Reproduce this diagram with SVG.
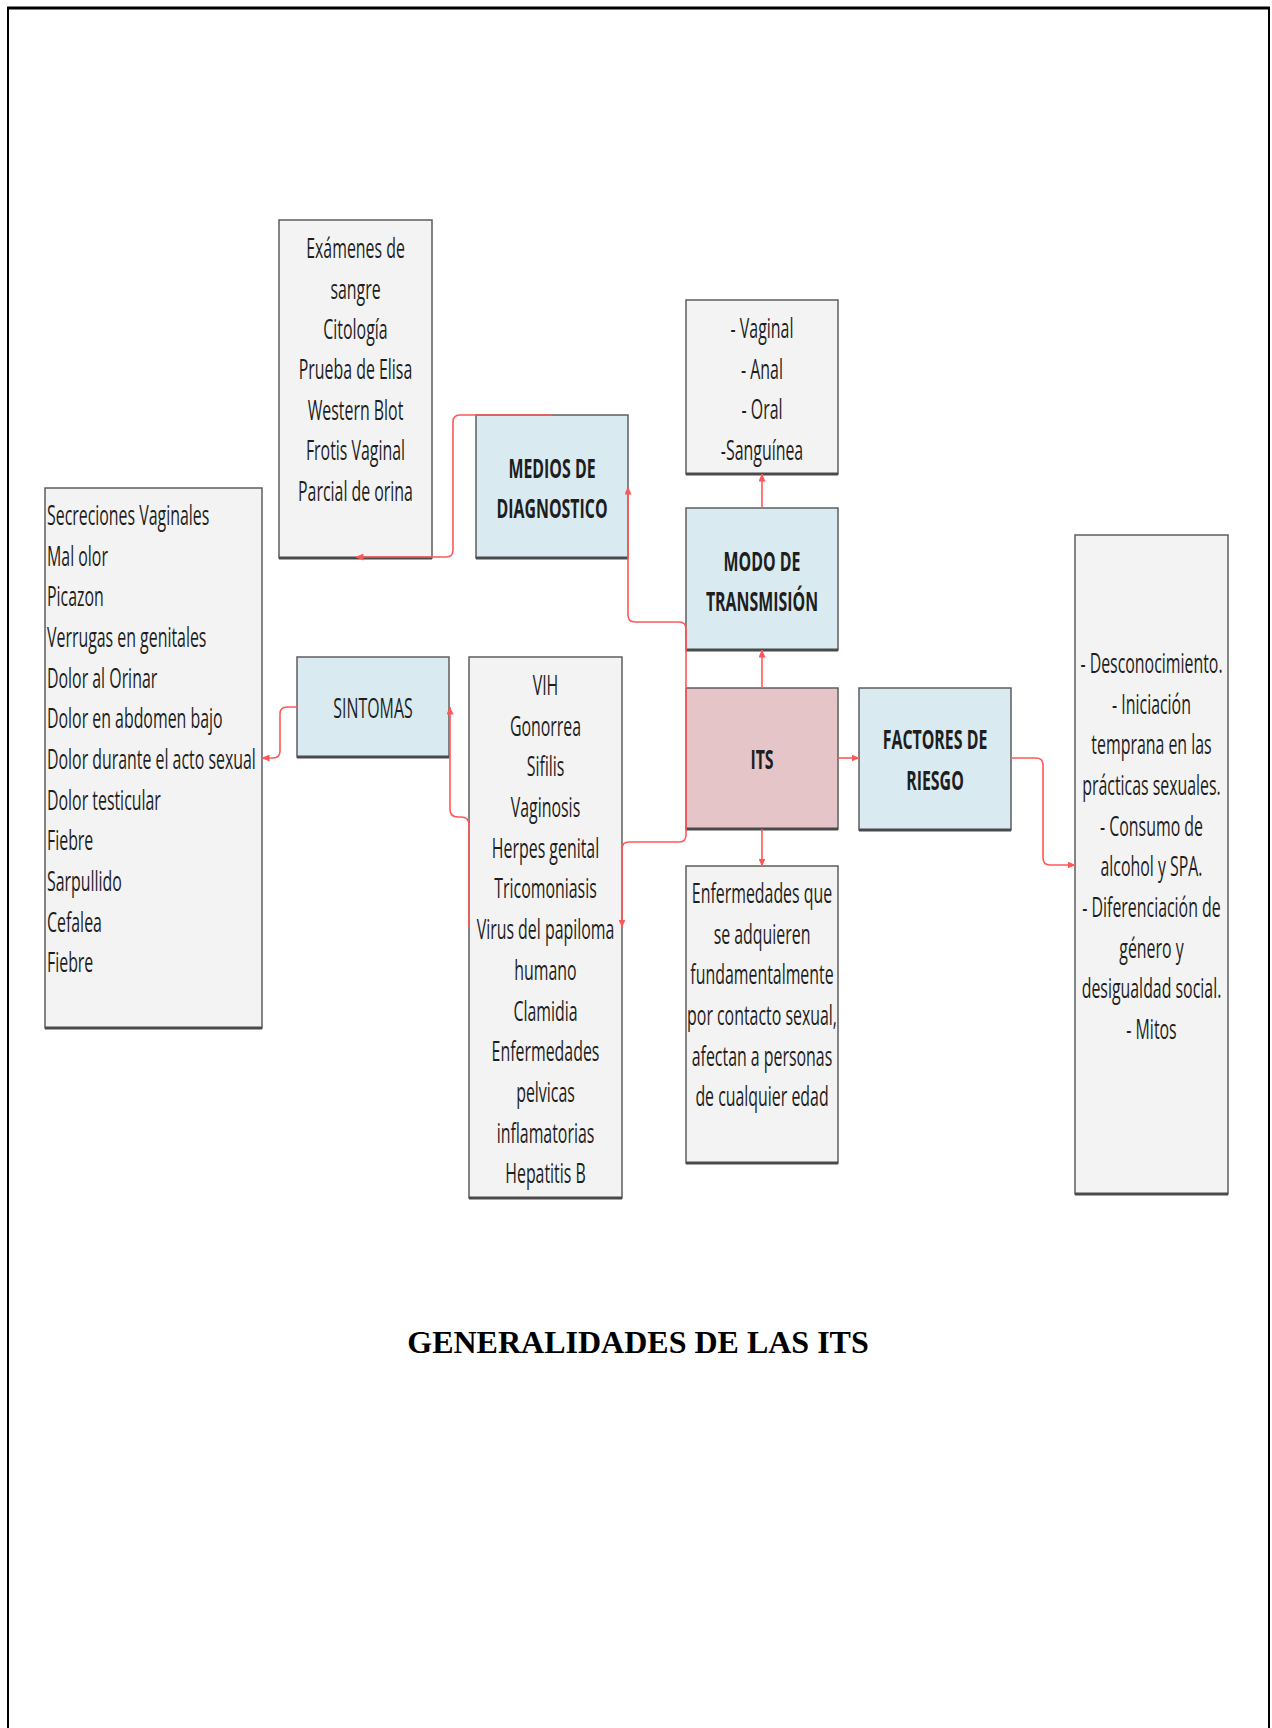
<svg xmlns="http://www.w3.org/2000/svg" width="1272" height="1728" viewBox="0 0 1272 1728">
<style>
.g{fill:#f3f3f3;stroke:#5e5e5e;stroke-width:1.5}
.b{fill:#d9eaf0;stroke:#5e5e5e;stroke-width:1.5}
.p{fill:#e6c5c8;stroke:#5e5e5e;stroke-width:1.5}
.sh{stroke:#4a4a4a;stroke-width:3}
.t{font-family:"Open Sans","Noto Sans","DejaVu Sans",sans-serif;font-size:26.5px;fill:#1e1e1e}
.c{text-anchor:middle}
.bold{font-weight:bold}
.con{fill:none;stroke:#ff5757;stroke-width:1.6}
.title{font-family:"Liberation Serif","Times New Roman",serif;font-weight:bold;font-size:32px;fill:#000;text-anchor:middle}
</style>
<defs>
<marker id="ah" markerUnits="userSpaceOnUse" markerWidth="8" markerHeight="7" refX="7.5" refY="3.5" orient="auto">
<path d="M0,0 L8,3.5 L0,7 z" fill="#ff5757"/>
</marker>
</defs>
<rect width="1272" height="1728" fill="#fff"/>
<path d="M8,1728 V8 H1269 V1728" fill="none" stroke="#000" stroke-width="2"/>
<line x1="7" y1="8" x2="1270" y2="8" stroke="#000" stroke-width="3"/>

<g id="examenes">
<rect class="g" x="279" y="220" width="153" height="338"/>
<line class="sh" x1="279" y1="558" x2="432" y2="558"/>
<g transform="translate(355.5 2) scale(0.6 1)">
<text class="t c" x="0" y="256">Exámenes de</text>
<text class="t c" x="0" y="297">sangre</text>
<text class="t c" x="0" y="337">Citología</text>
<text class="t c" x="0" y="377">Prueba de Elisa</text>
<text class="t c" x="0" y="418">Western Blot</text>
<text class="t c" x="0" y="458">Frotis Vaginal</text>
<text class="t c" x="0" y="499">Parcial de orina</text>
</g>
</g>

<g id="medios">
<rect class="b" x="476" y="415" width="152" height="143"/>
<line class="sh" x1="476" y1="558" x2="628" y2="558"/>
<g transform="translate(552 1) scale(0.6 1)">
<text class="t c bold" x="0" y="477">MEDIOS DE</text>
<text class="t c bold" x="0" y="517">DIAGNOSTICO</text>
</g>
</g>

<g id="vias">
<rect class="g" x="686" y="300" width="152" height="174"/>
<line class="sh" x1="686" y1="474" x2="838" y2="474"/>
<g transform="translate(762 2) scale(0.6 1)">
<text class="t c" x="0" y="336">- Vaginal</text>
<text class="t c" x="0" y="377">- Anal</text>
<text class="t c" x="0" y="417">- Oral</text>
<text class="t c" x="0" y="458">-Sanguínea</text>
</g>
</g>

<g id="modo">
<rect class="b" x="686" y="508" width="152" height="142"/>
<line class="sh" x1="686" y1="650" x2="838" y2="650"/>
<g transform="translate(762 1) scale(0.6 1)">
<text class="t c bold" x="0" y="570">MODO DE</text>
<text class="t c bold" x="0" y="610">TRANSMISIÓN</text>
</g>
</g>

<g id="its">
<rect class="p" x="686" y="688" width="152" height="141"/>
<line class="sh" x1="686" y1="829" x2="838" y2="829"/>
<g transform="translate(762 1) scale(0.6 1)">
<text class="t c bold" x="0" y="768">ITS</text>
</g>
</g>

<g id="definicion">
<rect class="g" x="686" y="866" width="152" height="297"/>
<line class="sh" x1="686" y1="1163" x2="838" y2="1163"/>
<g transform="translate(762 2) scale(0.6 1)">
<text class="t c" x="0" y="901">Enfermedades que</text>
<text class="t c" x="0" y="942">se adquieren</text>
<text class="t c" x="0" y="982">fundamentalmente</text>
<text class="t c" x="0" y="1023">por contacto sexual,</text>
<text class="t c" x="0" y="1064">afectan a personas</text>
<text class="t c" x="0" y="1104">de cualquier edad</text>
</g>
</g>

<g id="factores">
<rect class="b" x="859" y="688" width="152" height="142"/>
<line class="sh" x1="859" y1="830" x2="1011" y2="830"/>
<g transform="translate(935 1) scale(0.6 1)">
<text class="t c bold" x="0" y="748">FACTORES DE</text>
<text class="t c bold" x="0" y="789">RIESGO</text>
</g>
</g>

<g id="riesgos">
<rect class="g" x="1075" y="535" width="153" height="659"/>
<line class="sh" x1="1075" y1="1194" x2="1228" y2="1194"/>
<g transform="translate(1151.5 2) scale(0.6 1)">
<text class="t c" x="0" y="671">- Desconocimiento.</text>
<text class="t c" x="0" y="712">- Iniciación</text>
<text class="t c" x="0" y="752">temprana en las</text>
<text class="t c" x="0" y="793">prácticas sexuales.</text>
<text class="t c" x="0" y="834">- Consumo de</text>
<text class="t c" x="0" y="874">alcohol y SPA.</text>
<text class="t c" x="0" y="915">- Diferenciación de</text>
<text class="t c" x="0" y="956">género y</text>
<text class="t c" x="0" y="996">desigualdad social.</text>
<text class="t c" x="0" y="1037">- Mitos</text>
</g>
</g>

<g id="enfermedades">
<rect class="g" x="469" y="657" width="153" height="541"/>
<line class="sh" x1="469" y1="1198" x2="622" y2="1198"/>
<g transform="translate(545.5 2) scale(0.6 1)">
<text class="t c" x="0" y="693">VIH</text>
<text class="t c" x="0" y="734">Gonorrea</text>
<text class="t c" x="0" y="774">Sifilis</text>
<text class="t c" x="0" y="815">Vaginosis</text>
<text class="t c" x="0" y="856">Herpes genital</text>
<text class="t c" x="0" y="896">Tricomoniasis</text>
<text class="t c" x="0" y="937">Virus del papiloma</text>
<text class="t c" x="0" y="978">humano</text>
<text class="t c" x="0" y="1019">Clamidia</text>
<text class="t c" x="0" y="1059">Enfermedades</text>
<text class="t c" x="0" y="1100">pelvicas</text>
<text class="t c" x="0" y="1141">inflamatorias</text>
<text class="t c" x="0" y="1181">Hepatitis B</text>
</g>
</g>

<g id="sintomas">
<rect class="b" x="297" y="657" width="152" height="100"/>
<line class="sh" x1="297" y1="757" x2="449" y2="757"/>
<g transform="translate(373 2) scale(0.6 1)">
<text class="t c" x="0" y="716">SINTOMAS</text>
</g>
</g>

<g id="lista-sintomas">
<rect class="g" x="45" y="488" width="217" height="540"/>
<line class="sh" x1="45" y1="1028" x2="262" y2="1028"/>
<g transform="translate(47 2) scale(0.6 1)">
<text class="t" x="0" y="523">Secreciones Vaginales</text>
<text class="t" x="0" y="564">Mal olor</text>
<text class="t" x="0" y="604">Picazon</text>
<text class="t" x="0" y="645">Verrugas en genitales</text>
<text class="t" x="0" y="686">Dolor al Orinar</text>
<text class="t" x="0" y="726">Dolor en abdomen bajo</text>
<text class="t" x="0" y="767">Dolor durante el acto sexual</text>
<text class="t" x="0" y="808">Dolor testicular</text>
<text class="t" x="0" y="848">Fiebre</text>
<text class="t" x="0" y="889">Sarpullido</text>
<text class="t" x="0" y="930">Cefalea</text>
<text class="t" x="0" y="970">Fiebre</text>
</g>
</g>

<g id="connectors">
<path class="con" marker-end="url(#ah)" d="M762,688 V650"/>
<path class="con" marker-end="url(#ah)" d="M762,508 V474"/>
<path class="con" marker-end="url(#ah)" d="M762,829 V866"/>
<path class="con" marker-end="url(#ah)" d="M838,758 H859"/>
<path class="con" marker-end="url(#ah)" d="M1011,758 H1036 Q1043,758 1043,765 V858 Q1043,865 1050,865 H1075"/>
<path class="con" marker-end="url(#ah)" d="M686,758 V629 Q686,622 679,622 H635 Q628,622 628,615 V487"/>
<path class="con" marker-end="url(#ah)" d="M686,758 V835 Q686,842 679,842 H629 Q622,842 622,849 V927"/>
<path class="con" marker-end="url(#ah)" d="M552,415 H460 Q453,415 453,422 V550 Q453,557 446,557 H356"/>
<path class="con" marker-end="url(#ah)" d="M469,927 V825 Q469,817 461,817 H458 Q450,817 450,809 V707"/>
<path class="con" marker-end="url(#ah)" d="M297,707 H287 Q280,707 280,714 V751 Q280,758 273,758 H262"/>
</g>

<text class="title" x="638" y="1353">GENERALIDADES DE LAS ITS</text>
</svg>
